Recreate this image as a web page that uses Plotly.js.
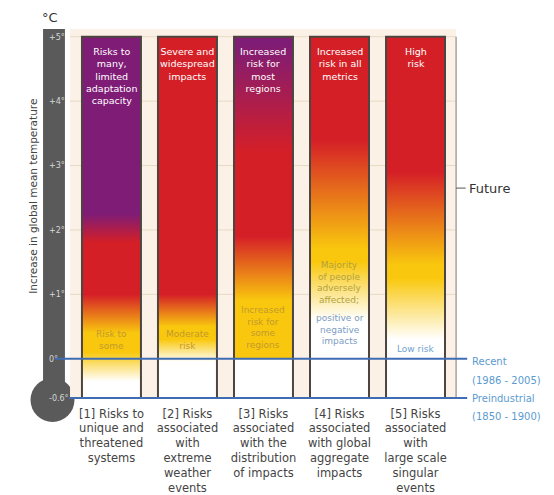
<!DOCTYPE html>
<html>
<head>
<meta charset="utf-8">
<script src="https://cdn.plot.ly/plotly-3.0.1.min.js"></script>
<style>html,body{margin:0;padding:0;background:#fff;}#chart{width:554px;height:495px;}</style>
</head>
<body>
<div id="chart"></div>
<script>
// ---------- data ----------
const categories = [
  '[1] Risks to<br>unique and<br>threatened<br>systems',
  '[2] Risks<br>associated<br>with<br>extreme<br>weather<br>events',
  '[3] Risks<br>associated<br>with the<br>distribution<br>of impacts',
  '[4] Risks<br>associated<br>with global<br>aggregate<br>impacts',
  '[5] Risks<br>associated<br>with<br>large scale<br>singular<br>events'
];
const topLabels = [
  'Risks to<br>many,<br>limited<br>adaptation<br>capacity',
  'Severe and<br>widespread<br>impacts',
  'Increased<br>risk for<br>most<br>regions',
  'Increased<br>risk in all<br>metrics',
  'High<br>risk'
];
const lowLabels = [
  'Risk to<br>some',
  'Moderate<br>risk',
  'Increased<br>risk for<br>some<br>regions',
  'Majority<br>of people<br>adversely<br>affected;',
  'Low risk'
];
const lowLabel4b = 'positive or<br>negative<br>impacts';

const yTickVals = [5, 4, 3, 2, 1, 0, -0.61];
const yTickText = ['+5°', '+4°', '+3°', '+2°', '+1°', '0°', '-0.6°'];

const recentT = 0;            // 1986-2005
const preindustrialT = -0.61; // 1850-1900
const topT = 5;

// risk level colours: 0 undetectable, 1 moderate, 2 high, 3 very high
const riskColors = ['#ffffff', '#f9c80e', '#d51f27', '#7e1c76'];

// temperatures (°C above 1986-2005) where each ember reaches a risk level
const ember1Temp = [-0.61, -0.35, 0.1, 0.4, 1.0, 1.8, 2.25, 5];
const ember1Risk = [0, 0, 1, 1, 2, 2, 3, 3];
const ember2Temp = [-0.61, -0.05, 0.3, 0.5, 1.0, 5];
const ember2Risk = [0, 0, 1, 1, 2, 2];
const ember3Temp = [-0.61, -0.02, 0.02, 0.9, 1.9, 3.2, 4.9, 5];
const ember3Risk = [0, 0, 1, 1, 2, 2, 3, 3];
const ember4Temp = [-0.61, 0.6, 1.5, 1.7, 3.4, 5];
const ember4Risk = [0, 0, 1, 1, 2, 2];
const ember5Temp = [-0.61, 0.3, 1.25, 1.45, 2.9, 5];
const ember5Risk = [0, 0, 1, 1, 2, 2];

const emberTemps = [ember1Temp, ember2Temp, ember3Temp, ember4Temp, ember5Temp];
const emberRisks = [ember1Risk, ember2Risk, ember3Risk, ember4Risk, ember5Risk];

// ---------- styling ----------
const FONT = 'DejaVu Sans';
const h = 0.388; // half bar width in category units
const Y_RANGE = [-0.64, 5.12];
const yPaper = v => (v - Y_RANGE[0]) / (Y_RANGE[1] - Y_RANGE[0]);

const traces = categories.map((c, i) => {
  const T = emberTemps[i], R = emberRisks[i];
  const lo = preindustrialT, hi = topT;
  const cs = T.map((t, k) => [(t - lo) / (hi - lo), riskColors[R[k]]]);
  return {
    type: 'scatter', mode: 'lines',
    x: [i - h, i + h, i + h, i - h, i - h],
    y: [lo, lo, hi, hi, lo],
    fill: 'toself',
    fillgradient: {type: 'vertical', colorscale: cs, start: lo, stop: hi},
    line: {color: '#4d4540', width: 2},
    hoverinfo: 'skip', showlegend: false
  };
});

const creamX0 = -0.545, creamX1 = 4.534;
const shapes = [];
// cream panel
shapes.push({type: 'rect', xref: 'x', yref: 'y', x0: creamX0, x1: creamX1, y0: preindustrialT, y1: 5.12,
  fillcolor: '#fcf1e6', line: {width: 0}, layer: 'below'});
// faint degree lines
yTickVals.filter(v => v > 0).forEach(v => {
  shapes.push({type: 'line', xref: 'x', yref: 'y', x0: creamX0, x1: creamX1, y0: v, y1: v,
    line: {color: '#e6d9c3', width: 1}, layer: 'below'});
});
// right bracket line
shapes.push({type: 'line', xref: 'x', yref: 'y', x0: creamX1, x1: creamX1, y0: preindustrialT, y1: topT,
  line: {color: '#a9a29b', width: 1.5}, layer: 'below'});
// future dash
shapes.push({type: 'line', xref: 'x', yref: 'y', x0: creamX1, x1: 4.66, y0: 2.65, y1: 2.65,
  line: {color: '#555', width: 1}, layer: 'below'});
// thermometer
shapes.push({type: 'rect', xref: 'x', yref: 'y', x0: -0.9, x1: -0.612, y0: preindustrialT, y1: 5.12,
  fillcolor: '#5a5a5a', line: {width: 0}, layer: 'below'});
shapes.push({type: 'circle', xref: 'paper', yref: 'paper', x0: -0.022, x1: 0.080, y0: -0.0593, y1: 0.0593,
  fillcolor: '#5a5a5a', line: {width: 0}, layer: 'below'});
// reference lines
shapes.push({type: 'line', xref: 'x', yref: 'y', x0: -0.742, x1: 4.68, y0: recentT, y1: recentT,
  line: {color: '#3f6db4', width: 2}, layer: 'above'});
shapes.push({type: 'line', xref: 'x', yref: 'y', x0: -0.56, x1: 4.68, y0: preindustrialT, y1: preindustrialT,
  line: {color: '#3f6db4', width: 2}, layer: 'above'});

const annotations = [];
topLabels.forEach((t, i) => annotations.push({
  x: i, y: 4.88, xref: 'x', yref: 'y', text: t, showarrow: false, yanchor: 'top',
  font: {family: FONT, size: 9.5, color: '#ffffff'}
}));
const lowY = [0.29, 0.29, 0.49, 1.19, 0.15];
const lowColor = ['#c39a2c', '#c39a2c', '#c39a2c', '#b3a23c', '#6f9fcf'];
lowLabels.forEach((t, i) => annotations.push({
  x: i, y: lowY[i], xref: 'x', yref: 'y', text: t, showarrow: false,
  font: {family: FONT, size: 9, color: lowColor[i]}
}));
annotations.push({x: 3, y: 0.45, xref: 'x', yref: 'y', text: lowLabel4b, showarrow: false,
  font: {family: FONT, size: 9, color: '#7c9cc4'}});
annotations.push({x: 4.68, y: yPaper(2.65), xref: 'x', yref: 'paper', text: 'Future', showarrow: false,
  xanchor: 'left', yanchor: 'middle', font: {family: FONT, size: 13, color: '#333'}});
const sideLabels = [
  ['Recent', recentT - 0.05],
  ['(1986 - 2005)', recentT - 0.33],
  ['Preindustrial', preindustrialT],
  ['(1850 - 1900)', preindustrialT - 0.29]
];
sideLabels.forEach(([t, v]) => annotations.push({
  x: 4.72, y: yPaper(v), xref: 'x', yref: 'paper', text: t, showarrow: false,
  xanchor: 'left', yanchor: 'middle', font: {family: FONT, size: 10, color: '#5b9bd0'}
}));
annotations.push({x: 0.023, y: 1.032, xref: 'paper', yref: 'paper', text: '°C', showarrow: false,
  xanchor: 'center', yanchor: 'middle', font: {family: FONT, size: 13, color: '#333'}});
annotations.push({x: -0.016, y: 0.548, xref: 'paper', yref: 'paper', text: 'Increase in global mean temperature',
  showarrow: false, textangle: -90, xanchor: 'center', yanchor: 'middle',
  font: {family: FONT, size: 10.5, color: '#444'}});

const layout = {
  width: 554, height: 495,
  margin: {l: 40, r: 83, t: 29, b: 95},
  paper_bgcolor: '#ffffff', plot_bgcolor: 'rgba(0,0,0,0)',
  font: {family: FONT},
  showlegend: false,
  xaxis: {
    range: [-0.94, 4.73], tickvals: [0, 1, 2, 3, 4], ticktext: categories,
    showgrid: false, zeroline: false, showline: false, ticks: '', ticklabelstandoff: 5,
    tickfont: {family: FONT, size: 11.5, color: '#444'}, fixedrange: true
  },
  yaxis: {
    range: Y_RANGE, tickvals: yTickVals, ticktext: yTickText,
    showgrid: false, zeroline: false, showline: false, ticks: '',
    ticklabelposition: 'inside', ticklabeloverflow: 'allow', ticklabelstandoff: 6,
    tickfont: {family: FONT, size: 8, color: '#d6d6d6'}, fixedrange: true
  },
  shapes: shapes,
  annotations: annotations
};

Plotly.newPlot('chart', traces, layout, {displayModeBar: false, staticPlot: true});
</script>
</body>
</html>
